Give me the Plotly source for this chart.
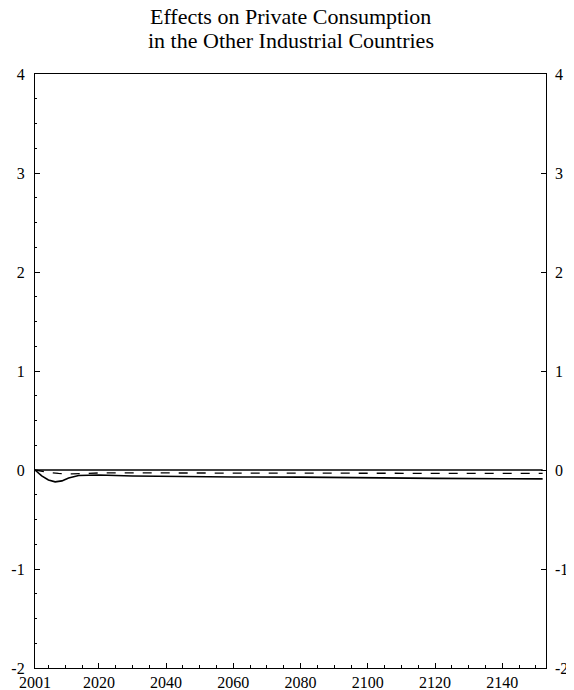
import plotly.graph_objects as go

years_solid = [2001, 2003, 2005, 2007, 2009, 2011, 2014, 2020, 2030, 2040, 2050, 2060, 2080, 2100, 2120, 2140, 2152]
solid_vals = [0.0, -0.06, -0.10, -0.12, -0.11, -0.08, -0.055, -0.05, -0.06, -0.065, -0.07, -0.07, -0.072, -0.08, -0.085, -0.088, -0.09]

years_dashed = [2001, 2004, 2008, 2012, 2016, 2020, 2040, 2060, 2080, 2100, 2120, 2140, 2152]
dashed_vals = [0.0, -0.02, -0.035, -0.04, -0.035, -0.03, -0.03, -0.03, -0.032, -0.033, -0.035, -0.035, -0.035]

years_zero = [2001, 2152]
zero_vals = [0.0, 0.0]

x_tickvals = [2001, 2020, 2040, 2060, 2080, 2100, 2120, 2140]
x_ticktext = ["2001", "2020", "2040", "2060", "2080", "2100", "2120", "2140"]
y_tickvals = [-2, -1, 0, 1, 2, 3, 4]
y_ticktext = ["-2", "-1", "0", "1", "2", "3", "4"]
title_lines = ["Effects on Private Consumption", "in the Other Industrial Countries"]

font_family = "Liberation Serif, Times New Roman, serif"

fig = go.Figure()
fig.add_trace(go.Scatter(x=years_zero, y=zero_vals, mode="lines",
                         line=dict(color="black", width=1.3), showlegend=False))
fig.add_trace(go.Scatter(x=years_dashed, y=dashed_vals, mode="lines",
                         line=dict(color="black", width=1.3, dash="dash"), showlegend=False))
fig.add_trace(go.Scatter(x=years_solid, y=solid_vals, mode="lines",
                         line=dict(color="black", width=1.6), showlegend=False))
# invisible trace to anchor right axis
fig.add_trace(go.Scatter(x=years_zero, y=zero_vals, yaxis="y2", mode="lines",
                         line=dict(color="rgba(0,0,0,0)"), showlegend=False, hoverinfo="skip"))

# page body has an 8px margin; figure sized to fit the window
plot_h = 682 - 66 - 22
for i, (txt, off) in enumerate(zip(title_lines, [57, 33])):
    fig.add_annotation(text=txt, xref="paper", yref="paper", x=0.5, y=1 + off / plot_h,
                       xanchor="center", yanchor="middle", showarrow=False,
                       font=dict(family=font_family, size=22, color="black"))

fig.update_layout(
    width=566, height=682,
    margin=dict(l=27, r=28, t=66, b=22, autoexpand=False),
    paper_bgcolor="white", plot_bgcolor="white",
    font=dict(family=font_family, color="black", size=15),
    xaxis=dict(range=[2001, 2153], tickvals=x_tickvals, ticktext=x_ticktext,
               ticks="inside", ticklen=5, tickcolor="black", automargin=False,
               showline=True, linecolor="black", linewidth=1.2, mirror=True,
               showgrid=False, zeroline=False,
               minor=dict(dtick=5, tick0=2000, ticks="inside", ticklen=3, tickcolor="black"),
               tickfont=dict(size=16), ticklabelstandoff=0),
    yaxis=dict(range=[-2, 4], tickvals=y_tickvals, ticktext=y_ticktext,
               ticks="inside", ticklen=5, automargin=False,
               tickcolor="black", showline=True, linecolor="black", linewidth=1.2,
               mirror=True, showgrid=False, zeroline=False,
               minor=dict(dtick=0.25, ticks="inside", ticklen=2, tickcolor="black"),
               tickfont=dict(size=16), ticklabelstandoff=6),
    yaxis2=dict(range=[-2, 4], tickvals=y_tickvals, ticktext=y_ticktext,
                overlaying="y", side="right", automargin=False,
                ticks="inside", ticklen=5, tickcolor="black",
                showline=False, showgrid=False, zeroline=False,
                tickfont=dict(size=16), ticklabelstandoff=8),
)

fig.write_html("out.html")
